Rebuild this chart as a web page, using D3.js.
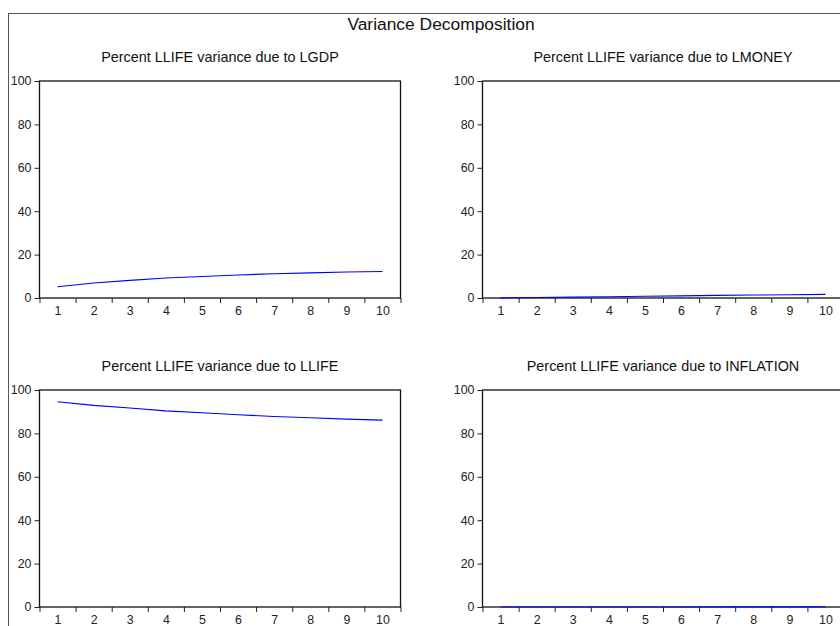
<!DOCTYPE html>
<html>
<head>
<meta charset="utf-8">
<script src="https://cdn.jsdelivr.net/npm/d3@7.9.0/dist/d3.min.js"></script>
<style>
  html, body { margin: 0; padding: 0; background: #fff; }
  svg { display: block; font-family: "Liberation Sans", Arial, sans-serif; }
</style>
</head>
<body>
<svg id="chart" width="840" height="626"></svg>
<script>
// forecast periods and variance shares (percent)
const periods = [1, 2, 3, 4, 5, 6, 7, 8, 9, 10];
const lgdp = [5.2, 6.9, 8.1, 9.2, 9.9, 10.6, 11.2, 11.6, 12.0, 12.2];
const lmoney = [0.05, 0.2, 0.4, 0.6, 0.8, 1.0, 1.2, 1.35, 1.5, 1.65];
const llife = [94.6, 92.9, 91.7, 90.4, 89.5, 88.6, 87.8, 87.2, 86.6, 86.1];
const inflation = [0.01, 0.02, 0.02, 0.03, 0.03, 0.03, 0.04, 0.04, 0.04, 0.04];
const yTicks = [0, 20, 40, 60, 80, 100];

const panels = [
  { title: 'Percent LLIFE variance due to LGDP', values: lgdp, left: 39.5, top: 81 },
  { title: 'Percent LLIFE variance due to LMONEY', values: lmoney, left: 482.5, top: 81 },
  { title: 'Percent LLIFE variance due to LLIFE', values: llife, left: 39.5, top: 390 },
  { title: 'Percent LLIFE variance due to INFLATION', values: inflation, left: 482.5, top: 390 },
];

const plotW = 361;
const plotH = 217;

const svg = d3.select('#chart');

// outer frame
svg.append('rect')
  .attr('x', 8.5).attr('y', 13.5)
  .attr('width', 866).attr('height', 640)
  .attr('fill', 'none')
  .attr('stroke', '#555')
  .attr('stroke-width', 1);

svg.append('text')
  .attr('x', 441).attr('y', 30)
  .attr('text-anchor', 'middle')
  .attr('font-size', 17.4)
  .attr('fill', '#111')
  .text('Variance Decomposition');

let x = d3.scaleLinear().domain([0.5, 10.5]).range([0, plotW]);
let y = d3.scaleLinear().domain([0, 100]).range([plotH, 0]);

let line = d3.line()
  .x((d, i) => x(periods[i]))
  .y((d) => y(d));

panels.forEach((p) => {
  let g = svg.append('g').attr('transform', `translate(${p.left},${p.top})`);

  g.append('text')
    .attr('x', plotW / 2).attr('y', -19.5)
    .attr('text-anchor', 'middle')
    .attr('font-size', 14.4)
    .attr('fill', '#111')
    .text(p.title);

  // y axis
  let yAxis = g.append('g')
    .call(d3.axisLeft(y).tickValues(yTicks).tickSize(5).tickPadding(3));
  yAxis.select('.domain').remove();
  yAxis.selectAll('line').attr('stroke', '#222');
  yAxis.selectAll('text').attr('font-size', 12.4).attr('fill', '#222')
    .attr('font-family', '"Liberation Sans", Arial, sans-serif');

  // x tick marks at period boundaries
  let xEdges = d3.range(0.5, 11, 1);
  let xTickAxis = g.append('g')
    .attr('transform', `translate(0,${plotH})`)
    .call(d3.axisBottom(x).tickValues(xEdges).tickSize(5).tickFormat(''));
  xTickAxis.select('.domain').remove();
  xTickAxis.selectAll('line').attr('stroke', '#222');

  // x labels at period centres
  let xLabelAxis = g.append('g')
    .attr('transform', `translate(0,${plotH})`)
    .call(d3.axisBottom(x).tickValues(periods).tickSize(0).tickPadding(8)
      .tickFormat(d3.format('d')));
  xLabelAxis.select('.domain').remove();
  xLabelAxis.selectAll('text').attr('font-size', 12.4).attr('fill', '#222')
    .attr('font-family', '"Liberation Sans", Arial, sans-serif');

  g.append('rect')
    .attr('width', plotW).attr('height', plotH)
    .attr('fill', 'none')
    .attr('stroke', '#111')
    .attr('stroke-width', 1.3);

  g.append('path')
    .datum(p.values)
    .attr('d', line)
    .attr('fill', 'none')
    .attr('stroke', '#0000ff')
    .attr('stroke-width', 1.1);
});
</script>
</body>
</html>
